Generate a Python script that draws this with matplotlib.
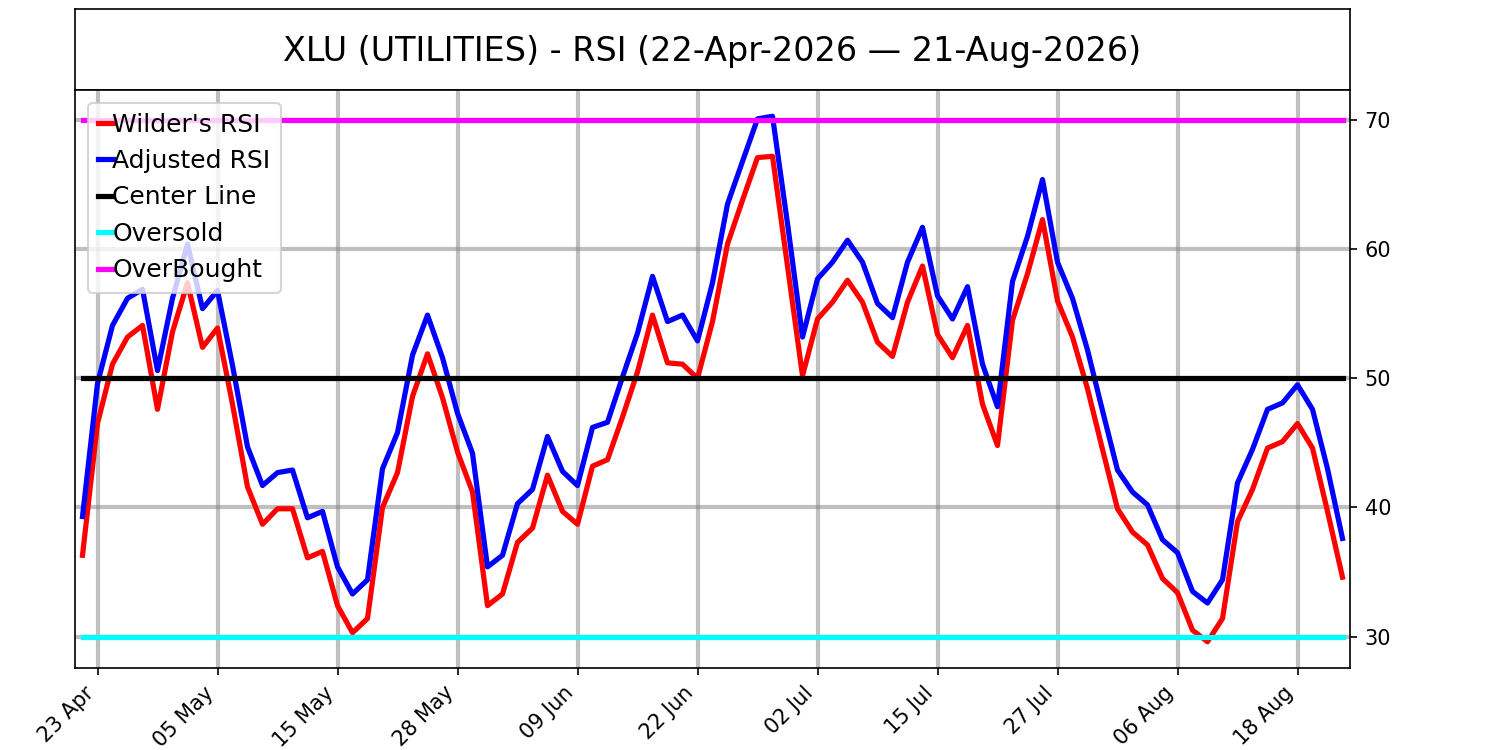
import numpy as np
import pandas as pd
import matplotlib
matplotlib.use("Agg")
import matplotlib.pyplot as plt

ticker = "XLU (UTILITIES)"
start_date = "2026-04-22"
end_date = "2026-08-21"
market_holidays = ["2026-05-25", "2026-06-19", "2026-07-03"]

wilder_rsi = [
    36.3, 46.5, 51.1, 53.2, 54.1, 47.6, 53.6, 57.4, 52.4, 53.9,
    48.0, 41.6, 38.7, 39.9, 39.9, 36.1, 36.6, 32.4, 30.3, 31.4,
    40.0, 42.7, 48.6, 51.9, 48.5, 44.3, 41.2, 32.4, 33.3, 37.3,
    38.4, 42.5, 39.7, 38.7, 43.2, 43.7, 47.0, 50.5, 54.9, 51.2,
    51.1, 50.0, 54.4, 60.4, 63.8, 67.1, 67.2, 58.7, 50.2, 54.6,
    55.9, 57.6, 55.9, 52.8, 51.7, 55.9, 58.7, 53.4, 51.6, 54.1,
    48.0, 44.8, 54.5, 58.1, 62.3, 56.0, 53.2, 49.2, 44.5, 39.9,
    38.1, 37.1, 34.5, 33.4, 30.5, 29.6, 31.4, 38.9, 41.4, 44.6,
    45.1, 46.5, 44.6, 39.7, 34.6,
]

adjusted_rsi = [
    39.3, 49.6, 54.1, 56.2, 56.9, 50.6, 56.2, 60.4, 55.4, 56.8,
    51.0, 44.7, 41.7, 42.7, 42.9, 39.2, 39.7, 35.4, 33.3, 34.4,
    43.0, 45.8, 51.8, 54.9, 51.6, 47.3, 44.2, 35.4, 36.3, 40.3,
    41.4, 45.5, 42.8, 41.7, 46.2, 46.6, 50.1, 53.5, 57.9, 54.4,
    54.9, 52.9, 57.4, 63.5, 66.8, 70.1, 70.3, 62.0, 53.2, 57.7,
    59.0, 60.7, 59.0, 55.8, 54.7, 59.0, 61.7, 56.4, 54.6, 57.1,
    51.1, 47.8, 57.5, 61.0, 65.4, 59.0, 56.2, 52.2, 47.5, 42.9,
    41.2, 40.2, 37.5, 36.5, 33.5, 32.6, 34.4, 41.9, 44.5, 47.6,
    48.1, 49.5, 47.6, 43.0, 37.6,
]

center_level = 50
oversold_level = 30
overbought_level = 70

# trading days only, plotted by position so weekends/holidays leave no gaps
dates = pd.bdate_range(start_date, end_date, freq="C", holidays=market_holidays)
x = np.arange(len(dates))
n = len(x)

fig = plt.figure(figsize=(10, 5), dpi=150)

# title lives in its own boxed axes above the chart
tax = fig.add_axes([0.05, 0.88, 0.85, 0.108])
tax.set_xticks([])
tax.set_yticks([])
title = f"{ticker} - RSI ({dates[0]:%d-%b-%Y} \u2014 {dates[-1]:%d-%b-%Y})"
tax.text(0.5, 0.47, title, ha="center", va="center", fontsize=16,
         transform=tax.transAxes)

lw = 2.5
ax = fig.add_axes([0.05, 0.1093, 0.85, 0.7707])
ax.plot(x, wilder_rsi, color="red", linewidth=lw, label="Wilder's RSI")
ax.plot(x, adjusted_rsi, color="blue", linewidth=lw, label="Adjusted RSI")
ax.plot(x, [center_level] * n, color="black", linewidth=lw, label="Center Line")
ax.plot(x, [oversold_level] * n, color="cyan", linewidth=lw, label="Oversold")
ax.plot(x, [overbought_level] * n, color="magenta", linewidth=lw, label="OverBought")

ax.set_xlim(-0.5, n - 0.5)
ax.set_yticks([30, 40, 50, 60, 70])
ax.yaxis.tick_right()

tick_idx = x[1::8]
ax.set_xticks(tick_idx)
ax.set_xticklabels([d.strftime("%d %b") for d in dates[1::8]],
                   rotation=45, ha="right")

ax.grid(True, color="gray", alpha=0.5, linewidth=2)
ax.set_axisbelow(True)

ax.legend(loc="upper left", fontsize=12, handlelength=0.6,
          handletextpad=0.0)

fig.savefig("out.png")
